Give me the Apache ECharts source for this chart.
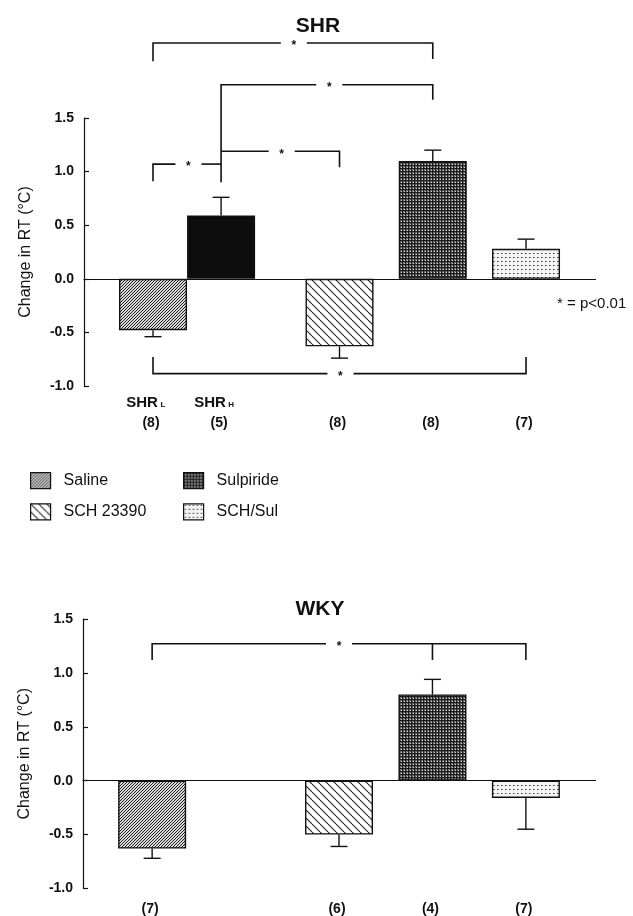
<!DOCTYPE html>
<html>
<head>
<meta charset="utf-8">
<script src="https://cdn.jsdelivr.net/npm/echarts@6/dist/echarts.min.js"></script>
<style>
  html, body { margin: 0; background: #fff; }
  #chart { width: 633px; height: 916px; }
</style>
</head>
<body>
<div id="chart"></div>
<script>
  /******************/
  //region    //data

  // SHR panel (slot position on the x axis, mean change, error, n)
  const shrSlot = [0, 0.73, 2, 3, 4];
  const shrMean = [-0.48, 0.59, -0.63, 1.10, 0.28];
  const shrErr = [0.06, 0.17, 0.11, 0.10, 0.09];
  const shrN = ['(8)', '(5)', '(8)', '(8)', '(7)'];
  const shrTag = ['SHR', 'SHR', '', '', ''];
  const shrSub = ['L', 'H', '', '', ''];
  const shrGroup = ['Saline', 'SHR_H', 'SCH 23390', 'Sulpiride', 'SCH/Sul'];

  // WKY panel
  const wkySlot = [0, 2, 3, 4];
  const wkyMean = [-0.63, -0.50, 0.80, -0.16];
  const wkyErr = [0.09, 0.11, 0.14, 0.29];
  const wkyN = ['(7)', '(6)', '(4)', '(7)'];
  const wkyGroup = ['Saline', 'SCH 23390', 'Sulpiride', 'SCH/Sul'];

  // y axis ticks
  const yMin = -1.0;
  const yMax = 1.5;
  const yStep = 0.5;

  // significance brackets: [from, to, level, leftLegEnd, rightLegEnd, starAt, (middle leg)]
  const shrBrackets = [
    [0, 3, 2.20, 2.03, 2.05, 1.51],
    [0.73, 3, 1.81, 0.90, 1.67, 1.89],
    [0, 0.73, 1.07, 0.91, 1.07, 0.38],
    [0.73, 2, 1.19, 1.19, 1.04, 1.38],
    [0, 4, -0.885, -0.73, -0.73, 2.01]
  ];
  const wkyBrackets = [
    [0, 4, 1.27, 1.12, 1.12, 2.0, 3]
  ];

  //endregion

  /******************/
  //region    //patterns

  const FONT = '"Liberation Sans", Arial, Helvetica, sans-serif';

  function tile(size, draw) {
    let c = document.createElement('canvas');
    c.width = size;
    c.height = size;
    draw(c.getContext('2d'), size);
    return {image: c, repeat: 'repeat'};
  }

  function hatch(size, step, dir, width, bg, fg) {
    return tile(size, (ctx, s) => {
      ctx.fillStyle = bg;
      ctx.fillRect(0, 0, s, s);
      ctx.strokeStyle = fg;
      ctx.lineWidth = width;
      for (let k = -s; k <= 2 * s; k += step) {
        ctx.beginPath();
        if (dir > 0) {
          ctx.moveTo(k, s);
          ctx.lineTo(k + s, 0);
        } else {
          ctx.moveTo(k, 0);
          ctx.lineTo(k + s, s);
        }
        ctx.stroke();
      }
    });
  }

  const fills = {
    'Saline': hatch(6, 3, 1, 1, '#d8d8d8', '#222'),
    'SHR_H': '#0d0d0d',
    'SCH 23390': hatch(8, 8, -1, 1.1, '#fff', '#222'),
    'Sulpiride': tile(3, (ctx, s) => {
      ctx.fillStyle = '#6a6a6a';
      ctx.fillRect(0, 0, s, s);
      ctx.fillStyle = '#1c1c1c';
      ctx.fillRect(0, 0, s, 1);
      ctx.fillRect(0, 0, 1, s);
      ctx.fillStyle = '#d6d6d6';
      ctx.fillRect(2, 2, 1, 1);
    }),
    'SCH/Sul': tile(4, (ctx, s) => {
      ctx.fillStyle = '#f4f4f4';
      ctx.fillRect(0, 0, s, s);
      ctx.fillStyle = '#333';
      ctx.fillRect(1, 1, 1, 1);
      ctx.fillStyle = '#999';
      ctx.fillRect(2, 1, 1, 1);
    })
  };

  //endregion

  /******************/
  //region    //render helpers

  function errorRender(slots, means, errs) {
    return function (params, api) {
      let i = params.dataIndex;
      let m = means[i];
      let end = m >= 0 ? m + errs[i] : m - errs[i];
      let p0 = api.coord([slots[i], m]);
      let p1 = api.coord([slots[i], end]);
      let st = {stroke: '#111', lineWidth: 1.4};
      return {
        type: 'group',
        children: [
          {type: 'line', shape: {x1: p0[0], y1: p0[1], x2: p1[0], y2: p1[1]}, style: st},
          {type: 'line', shape: {x1: p1[0] - 8.5, y1: p1[1], x2: p1[0] + 8.5, y2: p1[1]}, style: st}
        ]
      };
    };
  }

  function bracketRender(list) {
    return function (params, api) {
      let b = list[params.dataIndex];
      let a = api.coord([b[0], b[2]]);
      let c = api.coord([b[1], b[2]]);
      let aLeg = api.coord([b[0], b[3]]);
      let cLeg = api.coord([b[1], b[4]]);
      let s = api.coord([b[5], b[2]]);
      let gap = 13;
      let st = {stroke: '#111', lineWidth: 1.6, fill: 'none'};
      let kids = [
        {type: 'polyline', shape: {points: [aLeg, a, [s[0] - gap, a[1]]]}, style: st},
        {type: 'polyline', shape: {points: [[s[0] + gap, c[1]], c, cLeg]}, style: st},
        {
          type: 'text',
          style: {
            text: '*', x: s[0], y: s[1] + 3, align: 'center', verticalAlign: 'middle',
            font: 'bold 12px ' + FONT, fill: '#111'
          }
        }
      ];
      if (b.length > 6) {
        let m = api.coord([b[6], b[2]]);
        let mLeg = api.coord([b[6], b[4]]);
        kids.push({type: 'line', shape: {x1: m[0], y1: m[1], x2: mLeg[0], y2: mLeg[1]}, style: st});
      }
      return {type: 'group', children: kids};
    };
  }

  function labelRender(slots, counts, tags, subs, tagGap, countGap) {
    return function (params, api) {
      let i = params.dataIndex;
      let p = api.coord([slots[i], yMin]);
      let kids = [{
        type: 'text',
        style: {
          text: counts[i], x: p[0] - 2, y: p[1] + countGap, align: 'center', verticalAlign: 'middle',
          font: 'bold 14px ' + FONT, fill: '#111'
        }
      }];
      if (tags && tags[i]) {
        kids.push({
          type: 'text',
          style: {
            text: tags[i], x: p[0] - 11, y: p[1] + tagGap, align: 'center', verticalAlign: 'middle',
            font: 'bold 15px ' + FONT, fill: '#111'
          }
        });
        kids.push({
          type: 'text',
          style: {
            text: subs[i], x: p[0] + 10, y: p[1] + tagGap + 2, align: 'center', verticalAlign: 'middle',
            font: 'bold 8px ' + FONT, fill: '#111'
          }
        });
      }
      return {type: 'group', children: kids};
    };
  }

  //endregion

  /******************/
  //region    //options

  function xAxisCfg(idx) {
    return {
      type: 'value', gridIndex: idx, min: -0.74, max: 4.745,
      axisLine: {show: true, onZero: true, lineStyle: {color: '#111', width: 1.2}},
      axisTick: {show: false}, axisLabel: {show: false}, splitLine: {show: false}
    };
  }

  function yAxisCfg(idx) {
    return {
      type: 'value', gridIndex: idx, min: yMin, max: yMax, interval: yStep,
      name: 'Change in RT (°C)', nameLocation: 'middle', nameGap: 50,
      nameTextStyle: {fontSize: 16, fontFamily: FONT, color: '#111'},
      axisLine: {show: true, onZero: false, lineStyle: {color: '#111', width: 1.2}},
      axisTick: {show: true, inside: true, length: 5, lineStyle: {color: '#111', width: 1.2}},
      axisLabel: {
        margin: 10, fontSize: 14, fontWeight: 'bold', fontFamily: FONT, color: '#111',
        formatter: v => v.toFixed(1)
      },
      splitLine: {show: false}
    };
  }

  function barSeries(slots, means, groups, gi) {
    return slots.map((x, i) => ({
      type: 'bar', name: groups[i], xAxisIndex: gi, yAxisIndex: gi,
      barWidth: 68, barGap: '-100%', z: 2,
      data: [[x, means[i]]],
      itemStyle: {color: fills[groups[i]], borderColor: '#111', borderWidth: 1.4}
    }));
  }

  let legendBase = {
    orient: 'vertical', icon: 'rect', itemWidth: 20, itemHeight: 16, itemGap: 14,
    selectedMode: false, top: 467,
    itemStyle: {borderColor: '#111', borderWidth: 1.2},
    textStyle: {fontSize: 16, fontFamily: FONT, color: '#111', padding: [0, 0, 0, 8]}
  };

  let option = {
    backgroundColor: '#fff',
    animation: false,
    title: [
      {text: 'SHR', left: 313, top: 11, textAlign: 'center',
        textStyle: {fontSize: 21, fontWeight: 'bold', fontFamily: FONT, color: '#111'}},
      {text: 'WKY', left: 315, top: 594, textAlign: 'center',
        textStyle: {fontSize: 21, fontWeight: 'bold', fontFamily: FONT, color: '#111'}}
    ],
    legend: [
      Object.assign({}, legendBase, {left: 25, data: ['Saline', 'SCH 23390']}),
      Object.assign({}, legendBase, {left: 178, data: ['Sulpiride', 'SCH/Sul']})
    ],
    grid: [
      {left: 84, right: 37.5, top: 118, height: 268},
      {left: 83, right: 37.5, top: 619, height: 269.5}
    ],
    xAxis: [xAxisCfg(0), xAxisCfg(1)],
    yAxis: [yAxisCfg(0), yAxisCfg(1)],
    graphic: [{
      type: 'text', left: 557, top: 296,
      style: {text: '* = p<0.01', font: '15px ' + FONT, fill: '#111'}
    }],
    series: [].concat(
      barSeries(shrSlot, shrMean, shrGroup, 0),
      barSeries(wkySlot, wkyMean, wkyGroup, 1),
      [
        {
          type: 'custom', name: 'shr-err', xAxisIndex: 0, yAxisIndex: 0, z: 3,
          data: shrSlot.map((x, i) => [x, shrMean[i]]),
          renderItem: errorRender(shrSlot, shrMean, shrErr)
        },
        {
          type: 'custom', name: 'wky-err', xAxisIndex: 1, yAxisIndex: 1, z: 3,
          data: wkySlot.map((x, i) => [x, wkyMean[i]]),
          renderItem: errorRender(wkySlot, wkyMean, wkyErr)
        },
        {
          type: 'custom', name: 'shr-sig', xAxisIndex: 0, yAxisIndex: 0, z: 3, clip: false,
          data: shrBrackets.map(b => [b[0], b[2]]),
          renderItem: bracketRender(shrBrackets)
        },
        {
          type: 'custom', name: 'wky-sig', xAxisIndex: 1, yAxisIndex: 1, z: 3, clip: false,
          data: wkyBrackets.map(b => [b[0], b[2]]),
          renderItem: bracketRender(wkyBrackets)
        },
        {
          type: 'custom', name: 'shr-lab', xAxisIndex: 0, yAxisIndex: 0, z: 3, clip: false,
          data: shrSlot.map(x => [x, yMin]),
          renderItem: labelRender(shrSlot, shrN, shrTag, shrSub, 17, 37)
        },
        {
          type: 'custom', name: 'wky-lab', xAxisIndex: 1, yAxisIndex: 1, z: 3, clip: false,
          data: wkySlot.map(x => [x, yMin]),
          renderItem: labelRender(wkySlot, wkyN, null, null, 0, 21)
        }
      ]
    )
  };

  let chart = echarts.init(document.getElementById('chart'), null, {renderer: 'canvas'});
  chart.setOption(option);

  //endregion
</script>
</body>
</html>
